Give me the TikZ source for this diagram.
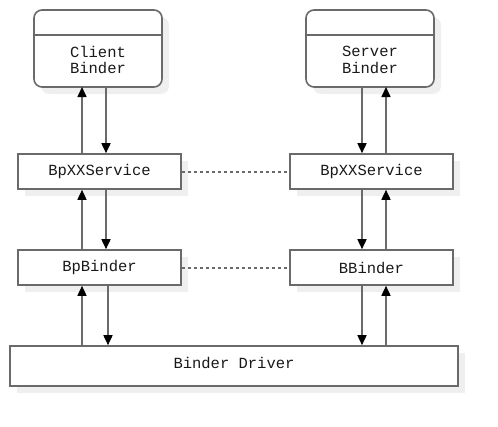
\documentclass[tikz,border=0pt]{standalone}
\usepackage{fontspec}
\setmonofont{Liberation Mono}
\usetikzlibrary{arrows.meta,calc}
\definecolor{ln}{HTML}{6A6A6A}
\definecolor{shd}{HTML}{EFEFEF}
\tikzset{
  x=1pt,y=-1pt,
  txt/.style={font=\ttfamily\fontsize{15.5}{16.5}\selectfont,text=black!90},
  box/.style={draw=ln,line width=1.6pt,fill=white,inner sep=0pt,txt},
  conn/.style={draw=ln,line width=1.6pt,-{Triangle[length=10pt,width=9pt,color=black]}},
  dot/.style={draw=ln,line width=2pt,dash pattern=on 3pt off 3pt},
}
\newcommand{\shadowbox}[5]{% x1 y1 x2 y2 radius
  \fill[shd,rounded corners=#5] (#1+7,#2+7) rectangle (#3+7,#4+7);}
\begin{document}
\begin{tikzpicture}
\useasboundingbox (0,0) rectangle (498,426);
% shadows
\shadowbox{34}{10}{162}{87}{8pt}
\shadowbox{306}{10}{434}{87}{8pt}
\shadowbox{18}{154}{181}{189}{0pt}
\shadowbox{290}{154}{453}{189}{0pt}
\shadowbox{18}{250}{181}{285}{0pt}
\shadowbox{290}{250}{453}{285}{0pt}
\shadowbox{10}{346}{458}{386}{0pt}
% top boxes
\draw[ln,line width=1.6pt,fill=white,rounded corners=8pt] (34,10) rectangle (162,87);
\draw[ln,line width=1.6pt] (34,35) -- (162,35);
\node[txt,align=center] (client) at (98,60) {Client\\Binder};
\draw[ln,line width=1.6pt,fill=white,rounded corners=8pt] (306,10) rectangle (434,87);
\draw[ln,line width=1.6pt] (306,35) -- (434,35);
\node[txt,align=center] (server) at (370,60) {Server\\Binder};
% rect boxes
\node[box,minimum width=163pt,minimum height=35pt] (lsvc) at (99.5,171.5) {BpXXService};
\node[box,minimum width=163pt,minimum height=35pt] (rsvc) at (371.5,171.5) {BpXXService};
\node[box,minimum width=163pt,minimum height=35pt] (lbnd) at (99.5,267.5) {BpBinder};
\node[box,minimum width=163pt,minimum height=35pt] (rbnd) at (371.5,267.5) {BBinder};
\node[box,minimum width=448pt,minimum height=40pt] (drv) at (234,366) {};
\node[txt] (drvt) at (234,362.5) {Binder Driver};
% dotted links
\draw[dot] (lsvc.east) -- (rsvc.west);
\draw[dot] (lbnd.east) -- (rbnd.west);
% left arrows
\draw[conn] (lsvc.north -| 82,0) -- (82,87);
\draw[conn] (106,87) -- (lsvc.north -| 106,0);
\draw[conn] (lbnd.north -| 82,0) -- (lsvc.south -| 82,0);
\draw[conn] (lsvc.south -| 106,0) -- (lbnd.north -| 106,0);
\draw[conn] (drv.north -| 82,0) -- (lbnd.south -| 82,0);
\draw[conn] (lbnd.south -| 108,0) -- (drv.north -| 108,0);
% right arrows
\draw[conn] (362,87) -- (rsvc.north -| 362,0);
\draw[conn] (rsvc.north -| 386,0) -- (386,87);
\draw[conn] (rsvc.south -| 362,0) -- (rbnd.north -| 362,0);
\draw[conn] (rbnd.north -| 386,0) -- (rsvc.south -| 386,0);
\draw[conn] (rbnd.south -| 362,0) -- (drv.north -| 362,0);
\draw[conn] (drv.north -| 386,0) -- (rbnd.south -| 386,0);
\end{tikzpicture}
\end{document}
